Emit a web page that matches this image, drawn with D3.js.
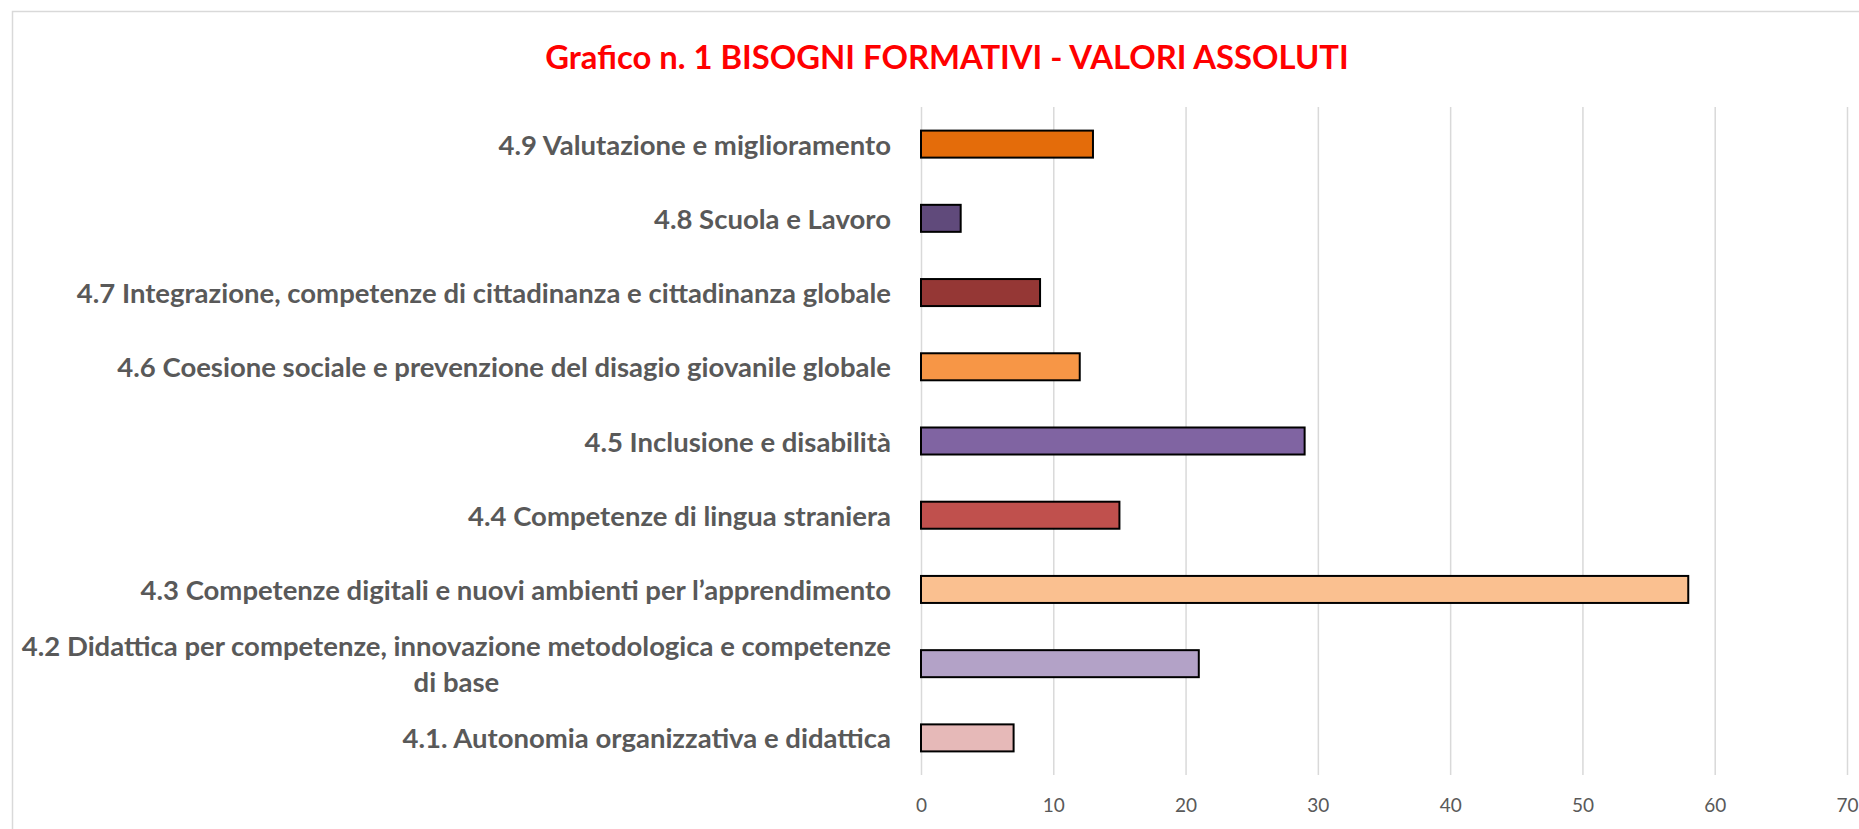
<!DOCTYPE html>
<html>
<head>
<meta charset="utf-8">
<script src="https://cdn.jsdelivr.net/npm/d3@7"></script>
<style>
  body { margin: 0; background: #fff; }
  svg { display: block; }
</style>
</head>
<body>
<div id="wrapper"></div>
<script>
const titleText = 'Grafico n. 1 BISOGNI FORMATIVI - VALORI ASSOLUTI'
// top to bottom, as in the picture
const categories = [
    '4.9 Valutazione e miglioramento',
    '4.8 Scuola e Lavoro',
    '4.7 Integrazione, competenze di cittadinanza e cittadinanza globale',
    '4.6 Coesione sociale e prevenzione del disagio giovanile globale',
    '4.5 Inclusione e disabilità',
    '4.4 Competenze di lingua straniera',
    '4.3 Competenze digitali e nuovi ambienti per l’apprendimento',
    '4.2 Didattica per competenze, innovazione metodologica e competenze|di base',
    '4.1. Autonomia organizzativa e didattica'
]
const values = [13, 3, 9, 12, 29, 15, 58, 21, 7]
const barColors = ['#E46C0A', '#604A7B', '#953735', '#F79646', '#8064A2', '#C0504D', '#FAC090', '#B3A2C7', '#E6B9B8']
const xTicks = [0, 10, 20, 30, 40, 50, 60, 70]

const width = 1859
const height = 829
const dims = { left: 921, right: 1847, top: 107, bottom: 775 }

const font = 'Lato, "Open Sans", sans-serif'
const labelSize = 27.5

function drawChart () {
    const svg = d3.select('#wrapper').append('svg')
        .attr('width', width)
        .attr('height', height)

    // chart frame, runs past the window edges
    svg.append('rect')
        .attr('x', 12.5).attr('y', 11.5)
        .attr('width', 1900).attr('height', 900)
        .attr('fill', '#fff')
        .attr('stroke', '#D9D9D9')
        .attr('stroke-width', 1.5)

    svg.append('text')
        .attr('x', 947)
        .attr('y', 56)
        .attr('text-anchor', 'middle')
        .attr('dominant-baseline', 'central')
        .attr('fill', '#FF0000')
        .attr('font-family', font)
        .attr('font-weight', 'bold')
        .attr('font-size', 32.8)
        .text(titleText)

    const xScale = d3.scaleLinear()
        .domain([0, 70])
        .range([dims.left, dims.right])

    const yScale = d3.scaleBand()
        .domain(categories)
        .range([dims.top, dims.bottom])
        .paddingInner(0.636)
        .paddingOuter(0.318)

    // gridlines
    svg.append('g')
        .attr('transform', `translate(0, ${dims.bottom})`)
        .call(d3.axisBottom(xScale).tickValues(xTicks).tickSize(-(dims.bottom - dims.top)).tickFormat(''))
        .call(g => g.select('.domain').remove())
        .call(g => g.selectAll('line').attr('stroke', '#D9D9D9').attr('stroke-width', 1.5))

    // tick labels
    svg.append('g')
        .attr('transform', `translate(0, ${dims.bottom})`)
        .call(d3.axisBottom(xScale).tickValues(xTicks).tickSize(0).tickPadding(24))
        .call(g => g.select('.domain').remove())
        .call(g => g.selectAll('text')
            .attr('fill', '#595959')
            .attr('font-family', font)
            .attr('font-size', 19))

    svg.append('g')
        .selectAll('rect')
        .data(categories)
        .join('rect')
        .attr('x', xScale(0))
        .attr('y', d => yScale(d))
        .attr('width', (d, i) => xScale(values[i]) - xScale(0))
        .attr('height', yScale.bandwidth())
        .attr('fill', (d, i) => barColors[i])
        .attr('stroke', '#000')
        .attr('stroke-width', 2)

    // category labels, wrapped lines centred under the first one
    const labelRight = 891
    const lineGap = 36
    categories.forEach(c => {
        const lines = c.split('|')
        const cy = yScale(c) + yScale.bandwidth() / 2
        const y0 = cy - (lines.length - 1) * lineGap / 2
        const first = svg.append('text')
            .attr('x', labelRight)
            .attr('y', y0)
            .attr('text-anchor', 'end')
            .attr('dominant-baseline', 'central')
            .attr('fill', '#595959')
            .attr('font-family', font)
            .attr('font-weight', 'bold')
            .attr('font-size', labelSize)
            .text(lines[0])
        if (lines.length > 1) {
            const w = first.node().getComputedTextLength()
            lines.slice(1).forEach((l, k) => {
                svg.append('text')
                    .attr('x', labelRight - w / 2)
                    .attr('y', y0 + (k + 1) * lineGap)
                    .attr('text-anchor', 'middle')
                    .attr('dominant-baseline', 'central')
                    .attr('fill', '#595959')
                    .attr('font-family', font)
                    .attr('font-weight', 'bold')
                    .attr('font-size', labelSize)
                    .text(l)
            })
        }
    })
}

drawChart()
</script>
</body>
</html>
